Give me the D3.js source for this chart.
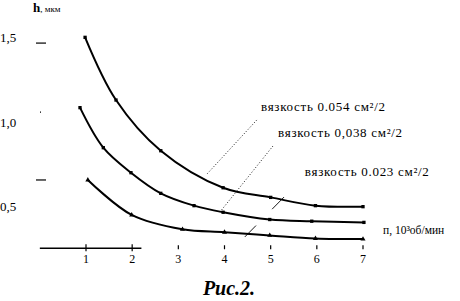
<!DOCTYPE html>
<html>
<head>
<meta charset="utf-8">
<script src="https://cdnjs.cloudflare.com/ajax/libs/d3/7.8.5/d3.min.js"></script>
<style>
  body { margin: 0; background: #fff; }
  svg { display: block; }
  text { font-family: "Liberation Serif", "DejaVu Serif", serif; fill: #000; }
</style>
</head>
<body>
<div id="chart"></div>
<script>
// curves: n (10^3 rev/min) and h (мкм)
var n054 = [0.98, 1.65, 2.62, 3.97, 5.0, 5.97, 7.0];
var h054 = [1.498, 1.127, 0.827, 0.608, 0.551, 0.502, 0.496];

var n038 = [0.87, 1.375, 1.974, 2.62, 3.34, 3.97, 4.98, 5.89, 7.02];
var h038 = [1.082, 0.845, 0.697, 0.575, 0.502, 0.463, 0.420, 0.410, 0.403];

var n023 = [1.04, 1.99, 3.09, 4.0, 4.98, 5.97, 7.0];
var h023 = [0.654, 0.447, 0.362, 0.345, 0.326, 0.308, 0.304];

var xTicks = [1, 2, 3, 4, 5, 6, 7];
var yTicks = [1.5, 1.0, 0.5];
var yTickLabels = ["1,5", "1,0", "0,5"];
var yDashes = [1.464, 1.056, 0.654];

var labels = ["вязкость 0.054 см²/2", "вязкость 0,038 см²/2", "вязкость 0.023 см²/2"];
// label anchors and leader lines, in data units
var labelAt = [[4.79, 1.062], [5.16, 0.908], [5.74, 0.678]];
var leaderFrom = [[4.70, 1.009], [5.05, 0.855], [5.29, 0.553]];
var leaderTo = [[3.62, 0.689], [3.90, 0.464], [4.44, 0.317]];

var width = 460, height = 301;

var svg = d3.select("#chart").append("svg")
    .attr("width", width)
    .attr("height", height);

var x = d3.scaleLinear().domain([1, 7]).range([86, 363]);
var y = d3.scaleLinear().domain([0.5, 1.5]).range([206, 37]);
var hAxis = 0.25;

// x axis (only a short stretch of the line survives in the original)
svg.append("line")
    .attr("x1", x(0)).attr("x2", x(2.2))
    .attr("y1", y(hAxis)).attr("y2", y(hAxis))
    .style("stroke", "#000").style("stroke-width", 1.3);

var xt = svg.append("g").selectAll("g").data(xTicks).enter().append("g")
    .attr("transform", function(d){ return "translate(" + x(d) + "," + y(hAxis) + ")"; });
xt.append("line")
    .attr("y1", function(d){ return d <= 2 ? -4 : -3; })
    .attr("y2", function(d){ return d <= 2 ? 3 : 1; })
    .style("stroke", "#000").style("stroke-width", 1.2);
xt.append("text")
    .attr("y", 15)
    .attr("text-anchor", "middle")
    .style("font-size", "12px")
    .text(function(d){ return d; });

// y "axis": labels and short dashes
svg.append("g").selectAll("text").data(yTicks).enter().append("text")
    .attr("x", 0)
    .attr("y", function(d){ return y(d) + 5; })
    .style("font-size", "13px")
    .text(function(d, i){ return yTickLabels[i]; });

svg.append("g").selectAll("line").data(yDashes).enter().append("line")
    .attr("x1", function(d, i){ return i == 1 ? 40 : 36; })
    .attr("x2", function(d, i){ return i == 1 ? 41 : 46; })
    .attr("y1", function(d){ return y(d); })
    .attr("y2", function(d){ return y(d); })
    .style("stroke", "#000").style("stroke-width", 1.2);

// titles
var yt = svg.append("text").attr("x", 33).attr("y", 12);
yt.append("tspan").style("font-size", "13px").style("font-weight", "bold").text("h");
yt.append("tspan").style("font-size", "9px").text(", мкм");

svg.append("text")
    .attr("x", x(7) + 20).attr("y", y(hAxis) - 14)
    .style("font-size", "11.5px")
    .text("п, 10³об/мин");

svg.append("text")
    .attr("x", 229).attr("y", 295)
    .attr("text-anchor", "middle")
    .style("font-size", "20px")
    .style("font-weight", "bold")
    .style("font-style", "italic")
    .text("Рис.2.");

// leaders
var dashes = ["1,2", "1,2", "17,23"];
leaderFrom.forEach(function(p, i){
    svg.append("line")
        .attr("x1", x(p[0])).attr("y1", y(p[1]))
        .attr("x2", x(leaderTo[i][0])).attr("y2", y(leaderTo[i][1]))
        .style("stroke", "#000")
        .style("stroke-width", 0.9)
        .style("stroke-dasharray", dashes[i]);
});

// curves
var line = d3.line()
    .x(function(d){ return x(d[0]); })
    .y(function(d){ return y(d[1]); })
    .curve(d3.curveCatmullRom.alpha(0.5));

var series = [
    {n: n054, h: h054, sym: d3.symbolSquare},
    {n: n038, h: h038, sym: d3.symbolSquare},
    {n: n023, h: h023, sym: d3.symbolTriangle}
];

series.forEach(function(s){
    var pts = s.n.map(function(v, i){ return [v, s.h[i]]; });
    svg.append("path")
        .datum(pts)
        .attr("d", line)
        .style("fill", "none")
        .style("stroke", "#000")
        .style("stroke-width", 2);
    svg.append("g").selectAll("path").data(pts).enter().append("path")
        .attr("d", d3.symbol().type(s.sym).size(11))
        .attr("transform", function(d){ return "translate(" + x(d[0]) + "," + y(d[1]) + ")"; })
        .style("fill", "#000");
});

// curve labels
svg.append("g").selectAll("text").data(labels).enter().append("text")
    .attr("x", function(d, i){ return x(labelAt[i][0]); })
    .attr("y", function(d, i){ return y(labelAt[i][1]); })
    .style("font-size", "13px")
    .style("letter-spacing", "0.7px")
    .text(function(d){ return d; });
</script>
</body>
</html>
